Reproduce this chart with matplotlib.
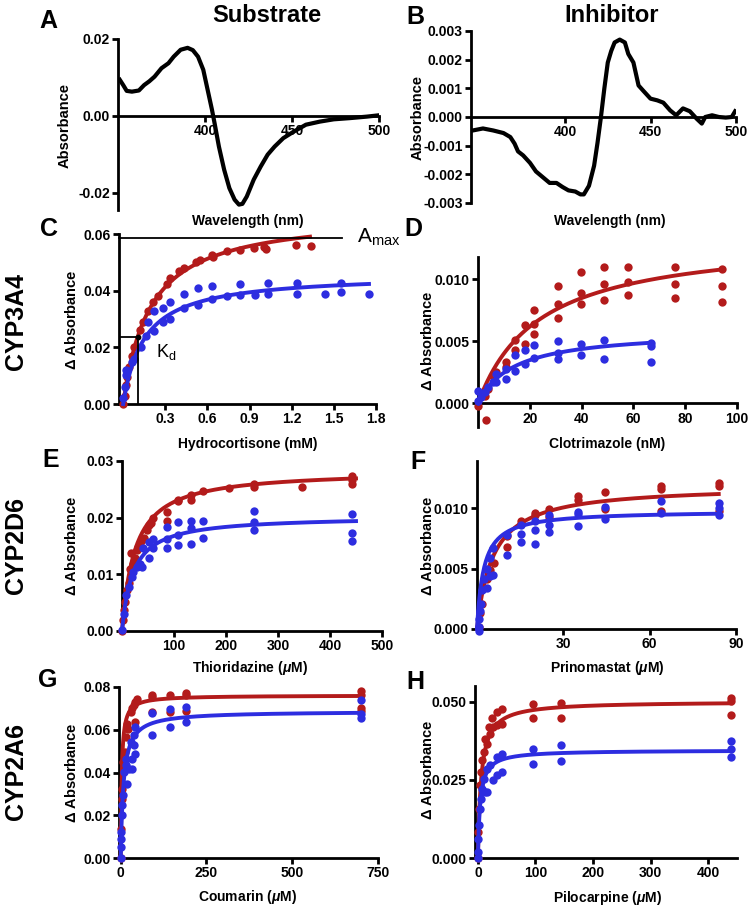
import matplotlib
matplotlib.use('Agg')
import matplotlib.pyplot as plt
import numpy as np
from matplotlib.ticker import FormatStrFormatter

plt.rcParams['font.family'] = 'Liberation Sans'
plt.rcParams['font.weight'] = 'bold'
plt.rcParams['axes.unicode_minus'] = False
plt.rcParams['mathtext.fontset'] = 'custom'
plt.rcParams['mathtext.it'] = 'Liberation Sans:italic:bold'
plt.rcParams['mathtext.rm'] = 'Liberation Sans:bold'

RED = '#b31b1b'
BLUE = '#2d2de0'

# --- difference spectra ---
a_wl = [351, 353, 355, 358, 362, 365, 368, 371, 375, 379, 382, 386, 390, 393, 396, 399, 401.5, 404, 405.5, 408,
        411, 414, 417, 419.5, 421.5, 424, 428, 432, 436, 440, 445, 451, 458, 466, 474, 483, 493, 499]
a_abs = [0.0094, 0.0080, 0.0065, 0.0063, 0.0066, 0.0080, 0.0090, 0.0102, 0.0124, 0.0137, 0.0154, 0.0172, 0.0177,
         0.0171, 0.0154, 0.0120, 0.0068, 0.0016, -0.0019, -0.0080, -0.0140, -0.0188, -0.0218, -0.0231, -0.0229,
         -0.0210, -0.0166, -0.0132, -0.0101, -0.0080, -0.0058, -0.0041, -0.0023, -0.0015, -0.0009, -0.0006,
         -0.0002, 0.0001]

b_wl = [346, 352, 358, 364, 368, 370.5, 372.5, 375.5, 379.5, 383, 387, 391, 395, 398.5, 402, 406, 409, 411, 414,
        417, 419, 421, 423, 425, 427, 429, 432, 435, 437, 440, 443, 446, 450, 454, 457.5, 461.5, 465, 469, 473,
        477, 480, 482, 486, 490, 494, 497.5, 499.5]
b_abs = [-0.00047, -0.0004, -0.00047, -0.00056, -0.0007, -0.00093, -0.0012, -0.00134, -0.0016, -0.0019, -0.0021,
         -0.0023, -0.0023, -0.00244, -0.00256, -0.0026, -0.0027, -0.0027, -0.0024, -0.0017, -0.0009, 0.0, 0.001,
         0.0019, 0.0023, 0.0026, 0.0027, 0.0026, 0.0022, 0.0019, 0.0011, 0.0009, 0.00064, 0.00058, 0.0005,
         0.00023, 0.00006, 0.0003, 0.0002, -0.00006, -0.00023, 0.0, 0.00006, 0.0, -0.00002, 0.0, 0.0002]

# --- titrations (red / blue) ---
c_red_x = [0.0, 0.01, 0.02, 0.03, 0.04, 0.06, 0.08, 0.12, 0.14, 0.18, 0.21, 0.25, 0.31, 0.33, 0.40, 0.43, 0.52,
           0.55, 0.63, 0.64, 0.74, 0.83, 0.93, 1.0, 1.02, 1.23, 1.34]
c_red_y = [0.0, 0.003, 0.0067, 0.0097, 0.013, 0.017, 0.020, 0.026, 0.029, 0.033, 0.036, 0.038, 0.0425, 0.0444,
           0.0468, 0.048, 0.050, 0.051, 0.0527, 0.052, 0.054, 0.0545, 0.055, 0.0553, 0.0547, 0.056, 0.0556]
c_blue_x = [0.0, 0.01, 0.02, 0.02, 0.06, 0.08, 0.13, 0.16, 0.18, 0.22, 0.22, 0.28, 0.28, 0.33, 0.33, 0.43, 0.43,
            0.53, 0.53, 0.63, 0.63, 0.74, 0.83, 0.83, 0.94, 1.03, 1.03, 1.24, 1.24, 1.44, 1.55, 1.55, 1.75]
c_blue_y = [0.002, 0.006, 0.0103, 0.012, 0.015, 0.016, 0.020, 0.024, 0.029, 0.0256, 0.0327, 0.034, 0.029, 0.036,
            0.030, 0.039, 0.034, 0.041, 0.035, 0.0415, 0.037, 0.038, 0.0423, 0.0385, 0.0385, 0.0427, 0.039, 0.0427,
            0.039, 0.039, 0.0427, 0.0397, 0.039]

d_red_x = [0, 2.6, 3.2, 3.9, 5.8, 7.1, 11, 11, 14.2, 14.2, 18, 18, 21.7, 21.7, 21.7, 30.7, 30.7, 30.7, 39.7, 39.7,
           39.7, 48.8, 48.8, 48.8, 57.8, 57.8, 57.8, 75.9, 75.9, 75.9, 94.2, 94.2, 94.2]
d_red_y = [-0.0002, 0.0006, -0.0013, 0.0012, 0.0022, 0.0025, 0.0033, 0.0029, 0.0051, 0.0043, 0.0063, 0.0048,
           0.0075, 0.0064, 0.0056, 0.0095, 0.008, 0.0069, 0.0106, 0.0089, 0.008, 0.011, 0.0096, 0.0083, 0.011,
           0.0098, 0.0087, 0.011, 0.0096, 0.0085, 0.0108, 0.0095, 0.0082]
d_blue_x = [0, 0, 1.3, 2.6, 3.9, 5.8, 7.1, 7.1, 11, 11, 14.2, 14.2, 18, 18, 21.7, 21.7, 30.7, 30.7, 30.7, 39.7,
            39.7, 48.8, 48.8, 66.8, 66.8, 66.8]
d_blue_y = [0.001, 0.0002, 0.0005, 0.0009, 0.0013, 0.0017, 0.0024, 0.0017, 0.0028, 0.002, 0.0039, 0.0026, 0.0043,
            0.0032, 0.0047, 0.0037, 0.005, 0.0041, 0.0036, 0.0048, 0.0039, 0.0051, 0.0036, 0.0049, 0.0046, 0.0033]

e_red_x = [0, 2, 3, 6, 9.5, 12.7, 16, 17, 22, 25, 28.5, 30, 35, 38, 42, 48, 51, 55, 60, 86, 86, 108, 108, 133, 133,
           156, 205, 254, 254, 347, 443, 443, 443]
e_red_y = [0.0, 0.0019, 0.0037, 0.0051, 0.0072, 0.0084, 0.011, 0.0137, 0.0119, 0.0128, 0.0143, 0.0148, 0.0151,
           0.016, 0.0165, 0.0178, 0.0187, 0.019, 0.0199, 0.021, 0.0194, 0.0229, 0.0232, 0.024, 0.0231, 0.0247,
           0.0252, 0.026, 0.0255, 0.0255, 0.0273, 0.0266, 0.0259]
e_blue_x = [0, 3, 8, 12.7, 19, 22, 28.5, 35, 38, 41, 51, 51, 60, 60, 86, 86, 86, 108, 108, 108, 133, 133, 133, 156,
            156, 254, 254, 254, 443, 443, 443]
e_blue_y = [0.0001, 0.003, 0.0063, 0.0078, 0.0095, 0.0104, 0.0113, 0.0119, 0.0113, 0.0146, 0.0128, 0.0157, 0.0163,
            0.0146, 0.0184, 0.0163, 0.0147, 0.0193, 0.0169, 0.0151, 0.0194, 0.0181, 0.0154, 0.0194, 0.0165, 0.0212,
            0.0193, 0.0178, 0.0206, 0.0173, 0.0159]

f_red_x = [0.6, 1.2, 1.7, 2.3, 3.5, 4.6, 5.8, 10.4, 10.4, 15.3, 15.3, 20.2, 20.2, 25, 25, 35, 35, 44.5, 44.5, 64,
           64, 64, 84, 84, 84]
f_red_y = [0.0002, 0.0013, 0.0021, 0.0034, 0.0041, 0.0049, 0.0055, 0.0068, 0.0077, 0.0089, 0.0087, 0.0096, 0.0094,
           0.0099, 0.0093, 0.011, 0.0107, 0.0113, 0.0099, 0.0118, 0.0116, 0.0098, 0.0121, 0.0118, 0.0098]
f_blue_x = [0.6, 0.6, 0.8, 1.2, 1.5, 1.7, 2.3, 3.5, 3.5, 4.6, 4.6, 5.4, 5.4, 10.4, 10.4, 15.3, 15.3, 15.3, 20.2,
            20.2, 20.2, 25, 25, 25, 35, 35, 35, 44.5, 44.5, 64, 64, 84, 84, 84]
f_blue_y = [-0.0002, 0.0002, 0.0008, 0.0015, 0.0021, 0.0032, 0.0041, 0.0034, 0.005, 0.0044, 0.0059, 0.0067, 0.0045,
            0.0078, 0.0061, 0.0086, 0.0079, 0.0072, 0.0089, 0.0082, 0.007, 0.0094, 0.0086, 0.008, 0.0097, 0.0095,
            0.0085, 0.0101, 0.0091, 0.0106, 0.0096, 0.0104, 0.01, 0.0094]

g_red_x = [0, 2, 5, 5, 8, 12, 14, 17, 21, 29, 34, 39, 43, 48, 43, 92, 92, 92, 143, 143, 191, 191, 191, 699, 699,
           699, 699]
g_red_y = [0.0, 0.0137, 0.0278, 0.0325, 0.045, 0.0496, 0.0566, 0.0629, 0.0605, 0.0683, 0.070, 0.0715, 0.073, 0.0743,
           0.0637, 0.0753, 0.0764, 0.0683, 0.0764, 0.0683, 0.0774, 0.0761, 0.069, 0.078, 0.0764, 0.0702, 0.069]
g_blue_x = [0, 0, 2, 2, 5, 5, 8, 10, 14, 14, 17, 24, 29, 34, 34, 39, 39, 43, 43, 92, 92, 143, 143, 191, 191, 699,
            699, 699]
g_blue_y = [0.0, 0.005, 0.009, 0.012, 0.02, 0.0246, 0.0293, 0.0403, 0.0434, 0.0465, 0.0348, 0.0418, 0.0543, 0.0418,
            0.0465, 0.0574, 0.0527, 0.0613, 0.0488, 0.0679, 0.0577, 0.0699, 0.0613, 0.0707, 0.0637, 0.0741, 0.0675,
            0.0655]

h_red_x = [0, 1, 2, 4, 6, 7, 10, 13, 16, 19, 21.5, 24, 26, 33, 33, 42, 42, 95, 95, 144, 144, 440, 440, 440]
h_red_y = [0.0, 0.0083, 0.0158, 0.0233, 0.0276, 0.0313, 0.034, 0.0382, 0.0366, 0.042, 0.0398, 0.0449, 0.042, 0.0468,
           0.0425, 0.0476, 0.0427, 0.0491, 0.0449, 0.0495, 0.0449, 0.0511, 0.0502, 0.0457]
h_blue_x = [0, 0, 1, 2, 4, 6, 7, 10, 13, 16, 16, 21.5, 26, 33, 33, 42, 42, 95, 95, 144, 144, 440, 440, 440]
h_blue_y = [0.0, 0.0019, 0.0062, 0.0105, 0.0158, 0.019, 0.0222, 0.0254, 0.0212, 0.0286, 0.0212, 0.0297, 0.0249,
            0.0324, 0.0265, 0.0331, 0.0276, 0.035, 0.030, 0.0361, 0.031, 0.0374, 0.035, 0.0324]

# fitted (Amax, Kd, last concentration) for the binding curves
c_fit = [(0.0675, 0.19, 1.33), (0.046, 0.15, 1.75)]
d_fit = [(0.0135, 23.6, 94.2), (0.0059, 13.8, 66.8)]
e_fit = [(0.0284, 24.7, 450), (0.0203, 21.0, 450)]
f_fit = [(0.0119, 5.5, 84), (0.0098, 2.3, 84)]
g_fit = [(0.0761, 2.8, 699), (0.0687, 8.2, 699)]
h_fit = [(0.0501, 5.65, 440), (0.0345, 4.05, 440)]

# Amax / Kd guides in panel C
c_amax = 0.0585
c_kd = 0.107
c_half = 0.0238

W, H = 750, 908
fig = plt.figure(figsize=(W / 100, H / 100), dpi=100)


def px_axes(left, top, right, bottom):
    ax = fig.add_axes([left / W, 1 - bottom / H, (right - left) / W, (bottom - top) / H])
    ax.patch.set_visible(False)
    for s in ['top', 'right']:
        ax.spines[s].set_visible(False)
    for s in ['left', 'bottom']:
        ax.spines[s].set_linewidth(2)
    ax.tick_params(width=2, length=4, labelsize=10, pad=2)
    return ax


def put(x, y, s, **kw):
    kw.setdefault('ha', 'center')
    kw.setdefault('va', 'center')
    fig.text(x / W, 1 - y / H, s, **kw)


def set_axis(ax, xlim, ylim, xticks, yticks, xfmt, yfmt, zero=False):
    ax.set_xlim(xlim)
    ax.set_ylim(ylim)
    ax.set_xticks(xticks)
    ax.set_yticks(yticks)
    ax.xaxis.set_major_formatter(FormatStrFormatter(xfmt))
    ax.yaxis.set_major_formatter(FormatStrFormatter(yfmt))
    if zero:
        ax.spines['bottom'].set_position(('data', 0))


def titration(ax, red_x, red_y, blue_x, blue_y, fits):
    ax.scatter(red_x, red_y, s=36, color=RED, linewidths=0, clip_on=False, zorder=3)
    a, k, xm = fits[0]
    xs = np.linspace(0, xm, 300)
    ax.plot(xs, a * xs / (k + xs), color=RED, lw=2.8, zorder=4, clip_on=False)
    ax.scatter(blue_x, blue_y, s=36, color=BLUE, linewidths=0, clip_on=False, zorder=5)
    a, k, xm = fits[1]
    xs = np.linspace(0, xm, 300)
    ax.plot(xs, a * xs / (k + xs), color=BLUE, lw=2.8, zorder=6, clip_on=False)


# A
ax = px_axes(118, 39, 379, 210)
ax.plot(a_wl, a_abs, color='black', lw=3)
set_axis(ax, (350, 500), (-0.0245, 0.02), [400, 450, 500], [-0.02, 0.0, 0.02], '%d', '%.2f', zero=True)

# B
ax = px_axes(471, 31, 736, 203)
ax.plot(b_wl, b_abs, color='black', lw=3)
set_axis(ax, (345, 500), (-0.003, 0.003), [400, 450, 500], np.arange(-0.003, 0.0031, 0.001), '%d', '%.3f', zero=True)

# C
ax = px_axes(119, 234, 376, 404)
titration(ax, c_red_x, c_red_y, c_blue_x, c_blue_y, c_fit)
set_axis(ax, (-0.03, 1.8), (0, 0.06), [0.3, 0.6, 0.9, 1.2, 1.5, 1.8], [0, 0.02, 0.04, 0.06], '%.1f', '%.2f')
ax.plot([-0.03, 1.558], [c_amax, c_amax], color='black', lw=1.3, clip_on=False, zorder=7)
ax.plot([-0.03, c_kd, c_kd], [c_half, c_half, 0], color='black', lw=1.3, zorder=7)
ax.scatter([c_kd], [c_half], s=10, color='black', zorder=8)
put(357, 243, r'A$_{\mathregular{max}}$', ha='left', va='baseline', fontsize=15, fontweight='normal')
put(156, 357, r'K$_{\mathregular{d}}$', ha='left', va='baseline', fontsize=13, fontweight='normal')

# D
ax = px_axes(478, 257, 737, 427)
titration(ax, d_red_x, d_red_y, d_blue_x, d_blue_y, d_fit)
set_axis(ax, (0, 100), (-0.0019, 0.0118), [20, 40, 60, 80, 100], [0, 0.005, 0.010], '%d', '%.3f', zero=True)

# E
ax = px_axes(122, 461, 382, 631)
titration(ax, e_red_x, e_red_y, e_blue_x, e_blue_y, e_fit)
set_axis(ax, (0, 500), (0, 0.03), [100, 200, 300, 400, 500], [0, 0.01, 0.02, 0.03], '%d', '%.2f')

# F
ax = px_axes(477, 461, 736, 629)
titration(ax, f_red_x, f_red_y, f_blue_x, f_blue_y, f_fit)
set_axis(ax, (0, 90), (0, 0.0139), [30, 60, 90], [0, 0.005, 0.010], '%d', '%.3f')

# G
ax = px_axes(119, 687, 378, 858)
titration(ax, g_red_x, g_red_y, g_blue_x, g_blue_y, g_fit)
set_axis(ax, (-5, 750), (0, 0.08), [0, 250, 500, 750], [0, 0.02, 0.04, 0.06, 0.08], '%d', '%.2f')

# H
ax = px_axes(475, 686, 737, 858)
titration(ax, h_red_x, h_red_y, h_blue_x, h_blue_y, h_fit)
set_axis(ax, (-5, 450), (0, 0.055), [0, 100, 200, 300, 400], [0, 0.025, 0.050], '%d', '%.3f')

# text
put(267, 15, 'Substrate', fontsize=17)
put(612, 15, 'Inhibitor', fontsize=17)
for x, y, s in [(48, 21, 'A'), (415, 17, 'B'), (49, 229, 'C'), (413, 229, 'D'),
                (51, 460, 'E'), (418, 462, 'F'), (48, 680, 'G'), (415, 682, 'H')]:
    put(x, y, s, fontsize=18)
for y, s in [(322, 'CYP3A4'), (545, 'CYP2D6'), (772, 'CYP2A6')]:
    put(16, y, s, fontsize=18, rotation=90)

for x, y, s in [(248, 221, 'Wavelength (nm)'), (610, 221, 'Wavelength (nm)'),
                (248, 444, 'Hydrocortisone (mM)'), (607, 444, 'Clotrimazole (nM)'),
                (250, 668, r'Thioridazine ($\mu$M)'), (607, 668, r'Prinomastat ($\mu$M)'),
                (248, 897, r'Coumarin ($\mu$M)'), (608, 898, r'Pilocarpine ($\mu$M)')]:
    put(x, y, s, fontsize=10)
for x, y, s in [(65, 125, 'Absorbance'), (418, 117, 'Absorbance'),
                (72, 320, r'$\Delta$ Absorbance'), (427, 341, r'$\Delta$ Absorbance'),
                (72, 546, r'$\Delta$ Absorbance'), (427, 546, r'$\Delta$ Absorbance'),
                (72, 773, r'$\Delta$ Absorbance'), (427, 770, r'$\Delta$ Absorbance')]:
    put(x, y, s, fontsize=10.5, rotation=90)

fig.savefig('out.png', dpi=100)
